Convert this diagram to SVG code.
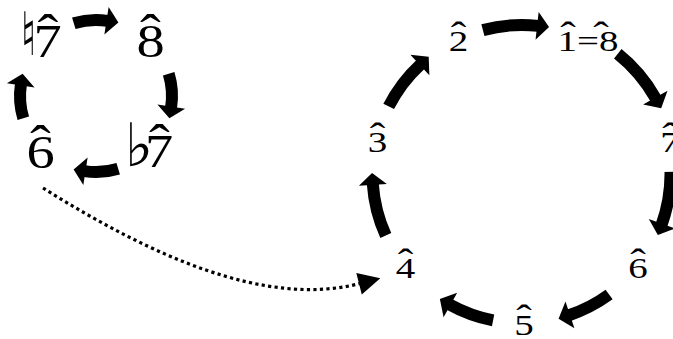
<svg xmlns="http://www.w3.org/2000/svg" width="673" height="339" viewBox="0 0 673 339">
  <style>
    .deg { font-family: "Liberation Serif", "Times New Roman", serif; fill: #000; text-anchor: middle; }
    .big { font-size: 47px; }
    .small { font-size: 30px; }
    .big .hat { font-size: 52px; }
    .small .hat { font-size: 36px; }
    .acc { font-family: "DejaVu Sans", sans-serif; fill: #000; text-anchor: middle; font-size: 60px; }
    .arc { fill: none; stroke: #000; stroke-width: 12; stroke-linecap: butt; marker-end: url(#head); }
    .dots { fill: none; stroke: #000; stroke-width: 3.2; stroke-dasharray: 3.2 3.3; marker-end: url(#dothead); }
  </style>
  <defs>
    <marker id="head" markerUnits="userSpaceOnUse" orient="auto" refX="1" refY="0" markerWidth="30" markerHeight="30" viewBox="0 -15 14 30" overflow="visible">
      <path d="M0,-14 L12,0 L0,14 Z" fill="#000"/>
    </marker>
    <marker id="dothead" markerUnits="userSpaceOnUse" orient="auto" refX="1" refY="0" markerWidth="24" markerHeight="24" viewBox="0 -12 24 24" overflow="visible">
      <path d="M0,-11 L22,0 L0,11 Z" fill="#000"/>
    </marker>
  </defs>

  <rect width="673" height="339" fill="#fff"/>

  <!-- minor-mode loop: digit with its circumflex, glyphs widened 1.2x -->
  <g id="n-nat7">
    <text class="acc" transform="translate(28.5,55) scale(0.75,1)">♮</text>
    <text class="deg big" transform="translate(47.5,57) scale(1.2,1)">7<tspan class="hat" x="0.4" y="-6">ˆ</tspan></text>
  </g>
  <g id="n-8">
    <text class="deg big" transform="translate(150.5,57) scale(1.2,1)">8<tspan class="hat" x="0" y="-6">ˆ</tspan></text>
  </g>
  <g id="n-flat7">
    <text class="acc" x="139" y="166">♭</text>
    <text class="deg big" transform="translate(159,167) scale(1.2,1)">7<tspan class="hat" x="0.4" y="-6">ˆ</tspan></text>
  </g>
  <g id="n-6a">
    <text class="deg big" transform="translate(40.5,168) scale(1.2,1)">6<tspan class="hat" x="0" y="-6">ˆ</tspan></text>
  </g>

  <!-- scale-degree circle: glyphs widened 1.3x -->
  <g id="n-2">
    <text class="deg small" transform="translate(458.5,51) scale(1.3,1)">2<tspan class="hat" x="0" y="-4.5">ˆ</tspan></text>
  </g>
  <g id="n-1-8">
    <text class="deg small" transform="translate(588,51) scale(1.3,1)">1=8<tspan class="hat" x="-15.4" y="-4.5">ˆ</tspan><tspan class="hat" x="10" y="-4.5">ˆ</tspan></text>
  </g>
  <g id="n-7">
    <text class="deg small" transform="translate(670,152) scale(1.3,1)">7<tspan class="hat" x="0" y="-4.5">ˆ</tspan></text>
  </g>
  <g id="n-6">
    <text class="deg small" transform="translate(638,278) scale(1.3,1)">6<tspan class="hat" x="0" y="-4.5">ˆ</tspan></text>
  </g>
  <g id="n-5">
    <text class="deg small" transform="translate(524,334.5) scale(1.3,1)">5<tspan class="hat" x="0" y="-4.5">ˆ</tspan></text>
  </g>
  <g id="n-4">
    <text class="deg small" transform="translate(405.5,278) scale(1.3,1)">4<tspan class="hat" x="0" y="-4.5">ˆ</tspan></text>
  </g>
  <g id="n-3">
    <text class="deg small" transform="translate(377.5,152) scale(1.3,1)">3<tspan class="hat" x="0" y="-4.5">ˆ</tspan></text>
  </g>

  <g id="connectors">
    <!-- small loop, clockwise -->
    <path class="arc" d="M73.8,23.3 A76,76 0 0 1 107.5,20.9"/>
    <path class="arc" d="M168.7,73.8 A76,76 0 0 1 171.1,107.5"/>
    <path class="arc" d="M118.2,168.7 A76,76 0 0 1 84.5,171.1"/>
    <path class="arc" d="M23.3,118.2 A76,76 0 0 1 20.9,84.5"/>
    <!-- large circle, clockwise -->
    <path class="arc" d="M482.9,30.1 A149,149 0 0 1 538.1,25.9"/>
    <path class="arc" d="M617.8,53.8 A154,154 0 0 1 655.8,98.6"/>
    <path class="arc" d="M670.5,171.9 A149,149 0 0 1 661.6,224.7"/>
    <path class="arc" d="M609.1,294.5 A149,149 0 0 1 569.0,315.2"/>
    <path class="arc" d="M493.1,320.3 A149,149 0 0 1 449.5,304.4"/>
    <path class="arc" d="M385.8,235.6 A149,149 0 0 1 372.8,183.9"/>
    <path class="arc" d="M388.7,106.4 A149,149 0 0 1 420.6,64.3"/>
    <!-- dotted link from 6 to 4 -->
    <path class="dots" d="M43,188 C150,255 265,308 360,283.5"/>
  </g>
</svg>
